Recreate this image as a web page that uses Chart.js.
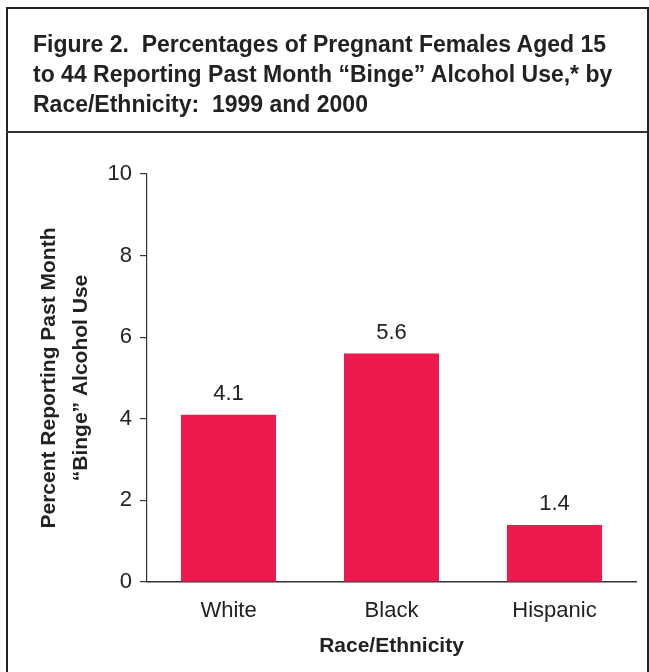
<!DOCTYPE html>
<html>
<head>
<meta charset="utf-8">
<script src="https://cdn.jsdelivr.net/npm/chart.js@4/dist/chart.umd.min.js"></script>
<style>
  html, body { margin: 0; padding: 0; background: #fff; }
  body { width: 649px; height: 672px; position: relative; overflow: hidden; font-family: "Liberation Sans", Arial, sans-serif; }
  #frame { position: absolute; left: 6px; top: 7px; width: 639px; height: 700px; border: 2px solid #222; box-sizing: content-box; }
  #head { position: absolute; left: 6px; top: 7px; width: 641px; height: 124px; border-bottom: 2px solid #333; }
  #title { position: absolute; left: 33px; top: 29px; margin: 0; font-weight: bold; font-size: 23px; line-height: 30px; color: #222; }
  #wrap { position: absolute; left: 0; top: 0; width: 649px; height: 672px; }
</style>
</head>
<body>
<div id="wrap"><canvas id="c" width="649" height="672"></canvas></div>
<div id="frame"></div>
<div id="head"></div>
<h1 id="title">Figure 2.&nbsp; Percentages of Pregnant Females Aged 15<br>to 44 Reporting Past Month “Binge” Alcohol Use,* by<br>Race/Ethnicity:&nbsp; 1999 and 2000</h1>
<script>
// Percent of pregnant females aged 15-44 reporting past-month binge drinking
const categories = ["White", "Black", "Hispanic"];
const bingePercent = [4.1, 5.6, 1.4];
const yTicks = [0, 2, 4, 6, 8, 10];
const yTitle = ["Percent Reporting Past Month", "“Binge” Alcohol Use"];
const xTitle = "Race/Ethnicity";

const ink = "#222";
const barColor = "#ED1A4F";
const family = "'Liberation Sans', Arial, sans-serif";

// Writes each bar's value just above it
const valueLabels = {
  id: "valueLabels",
  afterDatasetsDraw(chart) {
    const { ctx } = chart;
    const meta = chart.getDatasetMeta(0);
    ctx.save();
    ctx.font = "22px " + family;
    ctx.fillStyle = ink;
    ctx.textAlign = "center";
    ctx.textBaseline = "alphabetic";
    meta.data.forEach((bar, i) => {
      ctx.fillText(bingePercent[i].toFixed(1), bar.x, bar.y - 15);
    });
    ctx.restore();
  }
};

new Chart(document.getElementById("c"), {
  type: "bar",
  data: {
    labels: categories,
    datasets: [{
      data: bingePercent,
      backgroundColor: barColor,
      borderWidth: 0,
      categoryPercentage: 1,
      barPercentage: 0.583
    }]
  },
  options: {
    responsive: false,
    animation: false,
    events: [],
    layout: { padding: { top: 174, right: 13, left: 0, bottom: 0 } },
    plugins: { legend: { display: false }, tooltip: { enabled: false }, title: { display: false } },
    scales: {
      y: {
        min: 0,
        max: 10,
        afterFit(scale) { scale.width = 147; },
        afterBuildTicks(scale) { scale.ticks = yTicks.map(v => ({ value: v })); },
        ticks: {
          color: ink,
          padding: 8,
          font: { family, size: 22 }
        },
        grid: { drawOnChartArea: false, drawTicks: true, tickLength: 7, color: "#333", lineWidth: 1.2 },
        border: { display: true, color: "#333", width: 1.2 },
        title: {
          display: true,
          text: yTitle,
          color: ink,
          padding: { top: 33, bottom: 0 },
          font: { family, size: 21, weight: "bold", lineHeight: "32px" }
        }
      },
      x: {
        afterFit(scale) { scale.height = 90; },
        ticks: {
          color: ink,
          padding: 16,
          font: { family, size: 22 }
        },
        grid: { display: false, drawTicks: false },
        border: { display: true, color: "#333", width: 1.5 },
        title: {
          display: true,
          text: xTitle,
          color: ink,
          padding: { top: 0, bottom: 13 },
          font: { family, size: 21, weight: "bold" }
        }
      }
    }
  },
  plugins: [valueLabels]
});
</script>
</body>
</html>
